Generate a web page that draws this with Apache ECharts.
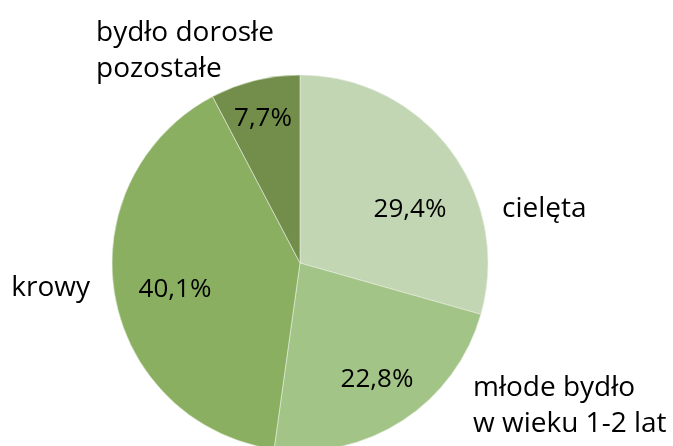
<!DOCTYPE html>
<html><head><meta charset="utf-8">
<script src="https://cdn.jsdelivr.net/npm/echarts@6/dist/echarts.min.js"></script>
<style>html,body{margin:0;padding:0;background:#fff}#c{width:673px;height:446px}</style>
</head><body><div id="c"></div>
<script>
const categories = ['cielęta', 'młode bydło\nw wieku 1-2 lat', 'krowy', 'bydło dorosłe\npozostałe'];
const values = [29.4, 22.8, 40.1, 7.7];
const percentLabels = ['29,4%', '22,8%', '40,1%', '7,7%'];
const colors = ['#c3d6b4', '#a3c487', '#8aaf60', '#728e4a'];
// label anchor positions (layout only)
const pctPos = [[410,210],[377,380],[175,290],[263,119]];
const namePos = [[502,209,'left'],[473,406,'left'],[90,288,'right'],[96,51,'left']];

const font = 'Open Sans';
const chart = echarts.init(document.getElementById('c'));
const data = categories.map((n,i)=>({name:n, value:values[i], itemStyle:{color:colors[i]}}));
chart.setOption({
  animation:false,
  series:[
    {type:'pie', center:[300,263], radius:[0,188], startAngle:90, clockwise:true, silent:true,
     data:data,
     itemStyle:{borderColor:'#e8efe0', borderWidth:0.6},
     label:{show:true, position:'inside', formatter:p=>percentLabels[p.dataIndex], color:'#000', fontFamily:font, fontSize:26},
     labelLine:{show:false},
     labelLayout:p=>({x:pctPos[p.dataIndex][0], y:pctPos[p.dataIndex][1], align:'center', verticalAlign:'middle'})
    },
    {type:'pie', center:[300,263], radius:[0,188], startAngle:90, clockwise:true, silent:true,
     data:data.map(d=>({name:d.name, value:d.value, itemStyle:{color:'rgba(0,0,0,0)'}})),
     label:{show:true, position:'inside', formatter:'{b}', color:'#000', fontFamily:font, fontSize:28, lineHeight:36},
     labelLine:{show:false},
     labelLayout:p=>({x:namePos[p.dataIndex][0], y:namePos[p.dataIndex][1], align:namePos[p.dataIndex][2], verticalAlign:'middle'})
    }
  ]
});
</script></body></html>
